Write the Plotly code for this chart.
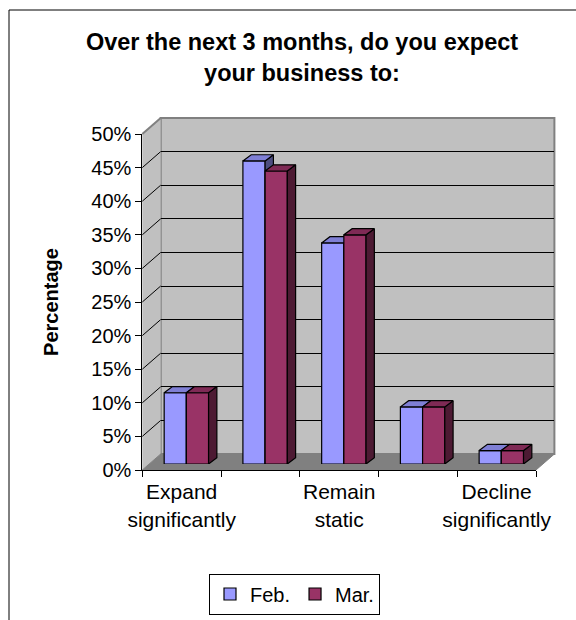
import plotly.graph_objects as go

# ---- data -------------------------------------------------------------
categories = [
    "Expand significantly",
    "Expand slightly",
    "Remain static",
    "Decline slightly",
    "Decline significantly",
]
tick_labels = ["Expand<br>significantly", "", "Remain<br>static", "", "Decline<br>significantly"]
series_names = ["Feb.", "Mar."]
feb = [10.6, 45.1, 32.9, 8.5, 2.0]
mar = [10.6, 43.6, 34.1, 8.5, 2.0]
y_ticks = [0, 5, 10, 15, 20, 25, 30, 35, 40, 45, 50]
y_tick_text = ["0%", "5%", "10%", "15%", "20%", "25%", "30%", "35%", "40%", "45%", "50%"]
grid_ticks = [5, 10, 15, 20, 25, 30, 35, 40, 45]

# ---- geometry (pixels) -------------------------------------------------
W, H = 576, 620
FRONT_X = (142.3, 536.0)      # front plane, left/right
FRONT_Y = (470.0, 134.0)      # front plane, 0% / 50%
WALL_SHIFT = (18.4, -16.0)    # back wall offset from front plane
BAR_SHIFT = (4.7, -6.0)       # bar front faces offset from front plane
DEPTH_PX = (8.3, -6.2)        # bar depth as drawn
Y_MAX = 50.0
X_RANGE = (-0.5, len(categories) - 0.5)
BAR_W = 0.282

FONT = "Liberation Sans, Arial, sans-serif"

FEB_FACE, FEB_TOP, FEB_SIDE = "#9999FF", "#7F7FD5", "#4D4D80"
MAR_FACE, MAR_TOP, MAR_SIDE = "#993366", "#7F2A55", "#4D1A33"
WALL, FLOOR, EDGE = "#C0C0C0", "#808080", "#808080"


def px_x(x):
    return x / W


def px_y(y):
    return 1 - y / H


def dom(shift):
    xs = [px_x(FRONT_X[0] + shift[0]), px_x(FRONT_X[1] + shift[0])]
    ys = [px_y(FRONT_Y[0] + shift[1]), px_y(FRONT_Y[1] + shift[1])]
    return xs, ys


front_xd, front_yd = dom((0, 0))
back_xd, back_yd = dom(WALL_SHIFT)
bar_xd, bar_yd = dom(BAR_SHIFT)

# depth expressed in bar-axis data units
units_x = (X_RANGE[1] - X_RANGE[0]) / (FRONT_X[1] - FRONT_X[0])
units_y = Y_MAX / (FRONT_Y[0] - FRONT_Y[1])
DX = DEPTH_PX[0] * units_x
DY = -DEPTH_PX[1] * units_y

positions = list(range(len(categories)))


def faces(values, offset):
    tx, ty, sx, sy = [], [], [], []
    for p, v in zip(positions, values):
        left = p + offset
        right = left + BAR_W
        tx += [left, right, right + DX, left + DX, left, None]
        ty += [v, v, v + DY, v + DY, v, None]
        sx += [right, right, right + DX, right + DX, right, None]
        sy += [0, v, v + DY, DY, 0, None]
    return (tx, ty), (sx, sy)


fig = go.Figure()

# back wall subplot (carries the horizontal gridlines)
fig.add_trace(go.Scatter(x=[None], y=[None], xaxis="x", yaxis="y",
                         showlegend=False, hoverinfo="skip"))
# front plane subplot (axis lines, ticks and labels)
fig.add_trace(go.Scatter(x=categories, y=[0] * len(categories), xaxis="x2", yaxis="y2",
                         mode="markers", marker=dict(opacity=0, size=1),
                         showlegend=False, hoverinfo="skip"))


def add_series(name, values, offset, face, top, side, xa, ya):
    fig.add_trace(go.Bar(
        x=positions, y=values, name=name, xaxis=xa, yaxis=ya,
        width=BAR_W, offset=offset,
        marker=dict(color=face, line=dict(color="black", width=1.2)),
        hoverinfo="skip",
    ))
    (tx, ty), (sx, sy) = faces(values, offset)
    for fx, fy, col in ((sx, sy, side), (tx, ty, top)):
        fig.add_trace(go.Scatter(
            x=fx, y=fy, xaxis=xa, yaxis=ya, mode="lines", fill="toself",
            fillcolor=col, line=dict(color="black", width=1.2),
            showlegend=False, hoverinfo="skip",
        ))


add_series(series_names[0], feb, -BAR_W, FEB_FACE, FEB_TOP, FEB_SIDE, "x3", "y3")
add_series(series_names[1], mar, 0.0, MAR_FACE, MAR_TOP, MAR_SIDE, "x4", "y4")

# ---- walls, floor and side-wall gridlines ------------------------------
fx0, fx1 = FRONT_X
fy0, fy1 = FRONT_Y
bx0, bx1 = fx0 + WALL_SHIFT[0], fx1 + WALL_SHIFT[0]


def fy(v):
    return fy0 + (fy1 - fy0) * v / Y_MAX


def by(v):
    return fy(v) + WALL_SHIFT[1]


def path(points):
    d = "M " + " L ".join(f"{px_x(x):.5f},{px_y(y):.5f}" for x, y in points) + " Z"
    return d


shapes = [
    # chart frame
    dict(type="rect", xref="paper", yref="paper", x0=px_x(9), x1=1.2,
         y0=-0.2, y1=px_y(10), line=dict(color="black", width=1), layer="below"),
    # back wall
    dict(type="rect", xref="paper", yref="paper", x0=px_x(bx0), x1=px_x(bx1),
         y0=px_y(by(0)), y1=px_y(by(Y_MAX)), fillcolor=WALL,
         line=dict(color=EDGE, width=2), layer="below"),
    # side wall
    dict(type="path", xref="paper", yref="paper", layer="below",
         path=path([(fx0, fy(0)), (bx0, by(0)), (bx0, by(Y_MAX)), (fx0, fy(Y_MAX))]),
         fillcolor=WALL, line=dict(width=0)),
    # floor
    dict(type="path", xref="paper", yref="paper", layer="below",
         path=path([(fx0, fy(0)), (fx1, fy(0)), (bx1, by(0)), (bx0, by(0))]),
         fillcolor=FLOOR, line=dict(color=EDGE, width=1)),
    # side wall top edge
    dict(type="line", xref="paper", yref="paper", layer="below",
         x0=px_x(fx0), y0=px_y(fy(Y_MAX)), x1=px_x(bx0), y1=px_y(by(Y_MAX)),
         line=dict(color=EDGE, width=2)),
]
for v in grid_ticks:
    shapes.append(dict(type="line", xref="paper", yref="paper", layer="below",
                       x0=px_x(fx0), y0=px_y(fy(v)), x1=px_x(bx0), y1=px_y(by(v)),
                       line=dict(color="black", width=1)))

hidden = dict(visible=False, showgrid=False, zeroline=False, fixedrange=True)

fig.update_layout(
    template="none",
    width=W, height=H,
    margin=dict(l=0, r=0, t=0, b=0),
    autosize=False,
    paper_bgcolor="white",
    plot_bgcolor="rgba(0,0,0,0)",
    font=dict(family=FONT, color="black", size=20),
    hovermode=False,
    shapes=shapes,
    title=dict(
        text="<b>Over the next 3 months, do you expect<br>your business to:</b>",
        font=dict(family=FONT, size=23.5, color="black"),
        x=302 / W, xanchor="center", y=1 - 50 / H, yanchor="middle",
    ),
    # back wall
    xaxis=dict(domain=back_xd, range=list(X_RANGE), **hidden),
    yaxis=dict(domain=back_yd, range=[0, Y_MAX], anchor="x", visible=True,
               showgrid=True, gridcolor="black", gridwidth=1, zeroline=False,
               tickmode="array", tickvals=grid_ticks, showticklabels=False,
               ticks="", showline=False, fixedrange=True, automargin=False),
    # front plane
    xaxis2=dict(domain=front_xd, anchor="y2", type="category",
                categoryorder="array", categoryarray=categories,
                range=list(X_RANGE), tickson="boundaries",
                tickmode="array", tickvals=categories, ticktext=tick_labels,
                tickangle=0, ticklabelstandoff=3,
                ticks="outside", ticklen=6, tickcolor="black", tickwidth=1,
                showline=True, linecolor="black", linewidth=1,
                showgrid=False, zeroline=False, automargin=False,
                tickfont=dict(size=21), fixedrange=True),
    yaxis2=dict(domain=front_yd, anchor="x2", range=[0, Y_MAX],
                tickmode="array", tickvals=y_ticks, ticktext=y_tick_text,
                ticks="outside", ticklen=6, tickcolor="black", tickwidth=1,
                showline=True, linecolor="black", linewidth=1,
                showgrid=False, zeroline=False, automargin=False,
                tickfont=dict(size=20), fixedrange=True,
                title=dict(text="<b>Percentage</b>", standoff=27,
                           font=dict(size=20))),
    # bars
    xaxis3=dict(domain=bar_xd, anchor="y3", range=list(X_RANGE), **hidden),
    yaxis3=dict(domain=bar_yd, anchor="x3", range=[0, Y_MAX], **hidden),
    xaxis4=dict(overlaying="x3", anchor="y4", range=list(X_RANGE), **hidden),
    yaxis4=dict(overlaying="y3", anchor="x4", range=[0, Y_MAX], **hidden),
    barmode="overlay",
    showlegend=True,
    legend=dict(
        orientation="h", x=(217 + 372) / 2 / W, xanchor="center",
        y=px_y(594), yanchor="middle", bgcolor="white",
        bordercolor="black", borderwidth=1, font=dict(size=20),
        itemclick=False, itemdoubleclick=False,
    ),
)

fig.write_html("out.html")
